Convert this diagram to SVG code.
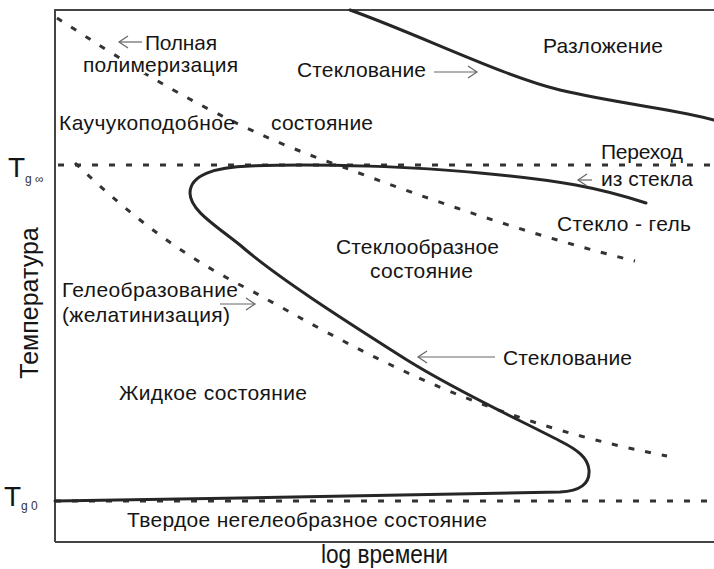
<svg xmlns="http://www.w3.org/2000/svg" width="714" height="569" viewBox="0 0 714 569">
<style>
  text { font-family: "Liberation Sans", Arial, sans-serif; font-size: 21px; fill: #151515; }
  .halo { paint-order: stroke; stroke: #fff; stroke-width: 4px; stroke-linejoin: round; }
  .axis { fill: none; stroke: #444; stroke-width: 2; }
  .solid { fill: none; stroke: #262626; stroke-width: 3; stroke-linecap: round; }
  .dash { fill: none; stroke: #333; stroke-width: 3; stroke-dasharray: 6 11; }
  .thin { fill: none; stroke: #666; stroke-width: 1.2; marker-end: url(#chev); }
  .sub { font-size: 12px; fill: #333; }
  .big { font-size: 28px; }
  .ax { font-size: 25px; }
</style>
<defs>
  <marker id="chev" markerUnits="userSpaceOnUse" markerWidth="12" markerHeight="14" refX="10" refY="6" orient="auto" overflow="visible">
    <path d="M1,0 L10,6 L1,12" fill="none" stroke="#666" stroke-width="1.2"/>
  </marker>
</defs>
<rect width="714" height="569" fill="#fff"/>

<g id="frame">
  <path class="axis" d="M55,542 V10 H714"/>
  <path class="axis" d="M55,542 H714"/>
</g>

<g id="connectors">
  <path class="dash" d="M58,165 H714"/>
  <path class="dash" d="M55,501 H714"/>
  <path class="dash" d="M57,18 C130,65 220,125 343,167 C430,200 540,238 635,261"/>
  <path class="dash" d="M75,163 C130,215 180,255 250,290 C350,345 470,418 667,456"/>
  <path class="solid" d="M350,10 C420,35 500,75 560,90 C620,104 680,110 714,120"/>
  <path class="solid" d="M55,501 C200,499 450,494 560,492 C580,491 590,484 589,470 C588,458 578,450 560,441 C520,420 460,393 407,360 C360,330 280,280 240,245 C215,225 190,210 190,193 C190,175 215,167 250,166 C320,163 420,167 480,173 C560,180 600,188 646,203"/>
  <path class="thin" d="M142,42 H119"/>
  <path class="thin" d="M434,72 H477"/>
  <path class="thin" d="M592,180 H578"/>
  <path class="thin" d="M220,304 H255"/>
  <path class="thin" d="M495,357 H418"/>
</g>

<g id="label-polymerization">
  <text class="halo" x="145" y="50" textLength="72">Полная</text>
  <text class="halo" x="83" y="72" textLength="155">полимеризация</text>
</g>
<g id="label-decomposition"><text x="543" y="53" textLength="120">Разложение</text></g>
<g id="label-vitrification-top"><text x="297" y="77" textLength="129">Стеклование</text></g>
<g id="label-rubbery">
  <text x="59" y="130" textLength="176">Каучукоподобное</text>
  <text x="271" y="130" textLength="102">состояние</text>
</g>
<g id="label-devitrification">
  <text x="601" y="159" textLength="82">Переход</text>
  <text x="601" y="186" textLength="92">из стекла</text>
</g>
<g id="label-glass-gel"><text x="557" y="231" textLength="134">Стекло - гель</text></g>
<g id="label-glassy">
  <text x="336" y="254" textLength="163">Стеклообразное</text>
  <text x="370" y="278" textLength="103">состояние</text>
</g>
<g id="label-gelation">
  <text x="62" y="297" textLength="176">Гелеобразование</text>
  <text x="62" y="322" textLength="168">(желатинизация)</text>
</g>
<g id="label-vitrification-low"><text x="503" y="365" textLength="129">Стеклование</text></g>
<g id="label-liquid"><text x="119" y="400" textLength="188">Жидкое состояние</text></g>
<g id="label-solid"><text x="127" y="527" textLength="360">Твердое негелеобразное состояние</text></g>
<g id="axis-x"><text class="ax" x="321" y="563" textLength="127" lengthAdjust="spacingAndGlyphs">log времени</text></g>
<g id="axis-y"><text class="ax" transform="translate(38,303) rotate(-90)" text-anchor="middle">Температура</text></g>
<g id="tick-tginf">
  <text class="big" x="8" y="177">T</text>
  <text class="sub" x="25" y="183">g ∞</text>
</g>
<g id="tick-tg0">
  <text class="big" x="4" y="506">T</text>
  <text class="sub" x="21" y="510">g 0</text>
</g>
</svg>
